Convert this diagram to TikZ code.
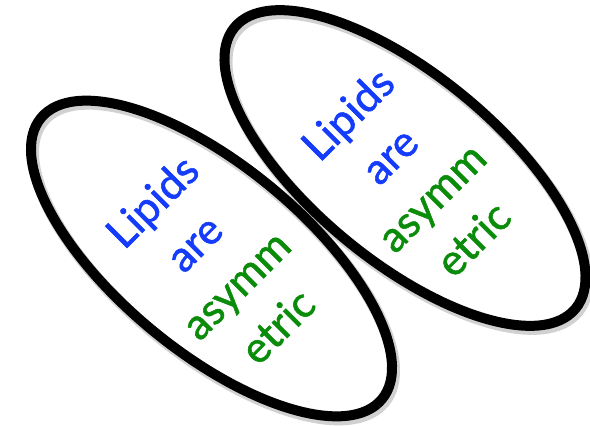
\documentclass[tikz,border=0pt]{standalone}
\usepackage{fontspec}
\setmainfont{Lato}[FakeBold=1.3]
\usetikzlibrary{shapes.geometric,shadows,calc}
\definecolor{lipidblue}{RGB}{20,60,250}
\definecolor{lipidgreen}{RGB}{10,140,10}

\begin{document}
\begin{tikzpicture}[
    x=1pt, y=-1pt,
    membrane/.style={ellipse, draw, line width=10pt, minimum width=442pt, minimum height=186pt, inner sep=0pt, rotate=-39.5,
        drop shadow={fill=none, draw=black, opacity=0.18, line width=12pt, shadow xshift=2pt, shadow yshift=-3pt}},
    words/.style={align=center, rotate=45, inner sep=0pt, font=\fontsize{43}{59}\selectfont}
]
    \useasboundingbox (0,0) rectangle (590,426);

    % Membranes
    \node[membrane] (memL) at (211.5,258.5) {};
    \node[membrane] (memR) at (405,168) {};

    % Labels
    \node[words] (txtL) at ($(memL.center)+(3,5)$) {\textcolor{lipidblue}{Lipids}\\ \textcolor{lipidblue}{are}\\ \textcolor{lipidgreen}{asymm}\\ \textcolor{lipidgreen}{etric}};
    \node[words] (txtR) at ($(memR.center)+(5,8)$) {\textcolor{lipidblue}{Lipids}\\ \textcolor{lipidblue}{are}\\ \textcolor{lipidgreen}{asymm}\\ \textcolor{lipidgreen}{etric}};
\end{tikzpicture}
\end{document}
